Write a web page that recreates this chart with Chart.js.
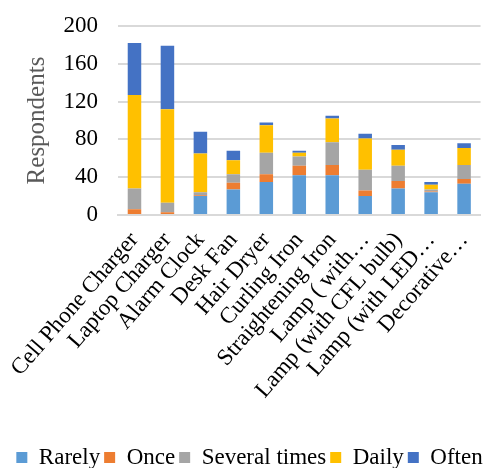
<!DOCTYPE html>
<html>
<head>
<meta charset="utf-8">
<script src="https://cdn.jsdelivr.net/npm/chart.js@4/dist/chart.umd.min.js"></script>
<style>
    html, body { margin: 0; padding: 0; background: #ffffff; }
    #wrap { width: 497px; height: 468px; position: relative; }
</style>
</head>
<body>
<div id="wrap"><canvas id="chart"></canvas></div>
<script>
const categories = [
    'Cell Phone Charger', 'Laptop Charger', 'Alarm Clock', 'Desk Fan', 'Hair Dryer',
    'Curling Iron', 'Straightening Iron', 'Lamp ( with\u2026', 'Lamp (with CFL bulb)',
    'Lamp (with LED\u2026', 'Decorative\u2026',
];
const rarely = [1, 1, 20, 27, 35, 42, 42, 20, 28, 24, 33];
const once = [5, 2, 1, 7, 8, 10, 11, 6, 8, 1, 5];
const severalTimes = [22, 10, 3, 9, 23, 10, 24, 22, 16, 2, 15];
const daily = [99, 99, 41, 15, 29, 4, 25, 33, 17, 5, 18];
const often = [55, 67, 23, 10, 3, 2, 3, 5, 5, 3, 5];
const yTicks = [0, 40, 80, 120, 160, 200];

const FONT = "'Liberation Serif', 'Times New Roman', serif";

function series(label, data, color) {
    return {
        label,
        data,
        backgroundColor: color,
        borderWidth: 0,
        categoryPercentage: 1,
        barPercentage: 0.41,
    };
}

new Chart(document.getElementById('chart').getContext('2d'), {
    type: 'bar',
    data: {
        labels: categories,
        datasets: [
            series('Rarely', rarely, '#5b9bd5'),
            series('Once', once, '#ed7d31'),
            series('Several times', severalTimes, '#a5a5a5'),
            series('Daily', daily, '#ffc000'),
            series('Often', often, '#4472c4'),
        ],
    },
    options: {
        responsive: true,
        maintainAspectRatio: false,
        animation: false,
        layout: { padding: { top: 26, right: 2, left: 4, bottom: -11 } },
        scales: {
            x: {
                stacked: true,
                grid: { display: false, drawTicks: false },
                border: { color: '#d9d9d9', width: 2 },
                ticks: {
                    color: '#000',
                    font: { family: FONT, size: 23 },
                    minRotation: 49,
                    maxRotation: 49,
                    autoSkip: false,
                    padding: 12,
                },
                afterFit: (axis) => {
                    axis.height = 227;
                    axis.paddingLeft = 0;
                },
            },
            y: {
                stacked: true,
                min: yTicks[0],
                max: yTicks[yTicks.length - 1],
                afterBuildTicks: (axis) => { axis.ticks = yTicks.map((v) => ({ value: v })); },
                afterFit: (axis) => {
                    axis.width = 114;
                    axis.paddingTop = 0;
                },
                grid: { color: '#d9d9d9', lineWidth: 2, drawTicks: false },
                border: { display: false },
                ticks: {
                    color: '#000',
                    font: { family: FONT, size: 23 },
                    padding: 20,
                    autoSkip: false,
                },
                title: {
                    display: true,
                    text: 'Respondents',
                    color: '#595959',
                    font: { family: FONT, size: 25 },
                    padding: { top: 18, bottom: 4 },
                },
            },
        },
        plugins: {
            legend: {
                position: 'bottom',
                labels: {
                    color: '#000',
                    font: { family: FONT, size: 23 },
                    boxWidth: 11,
                    boxHeight: 11,
                    padding: 4,
                },
            },
            tooltip: { enabled: false },
        },
    },
});
</script>
</body>
</html>
